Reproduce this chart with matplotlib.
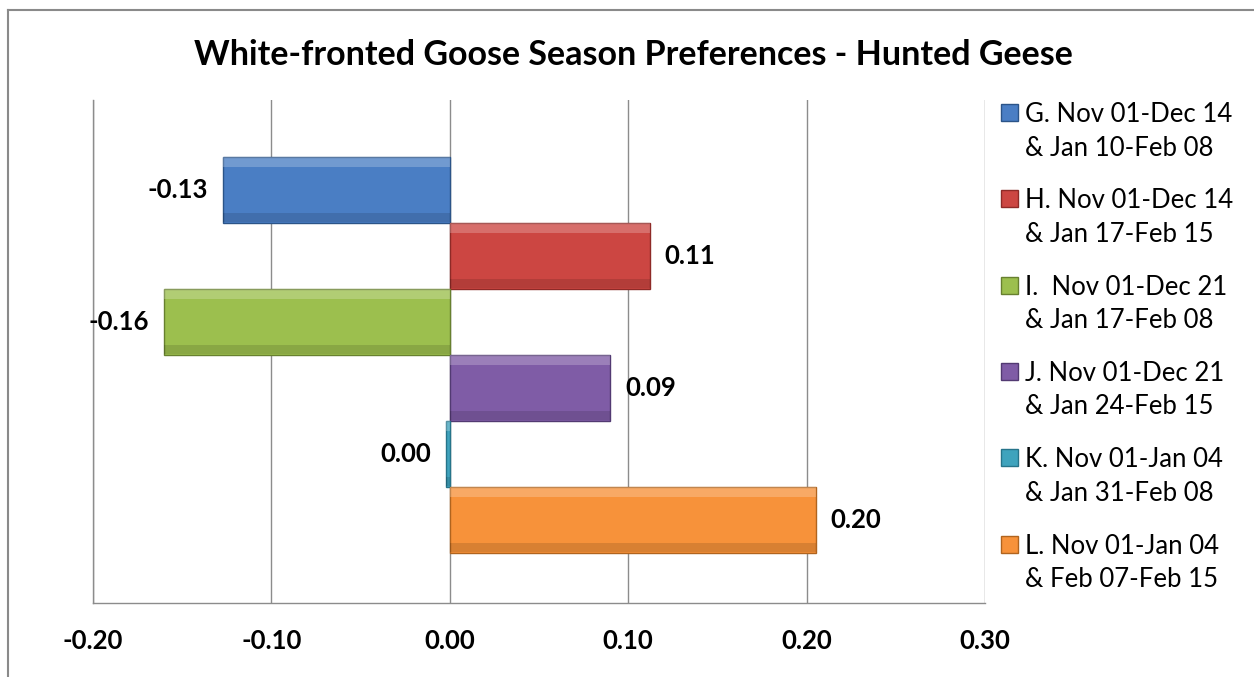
import numpy as np
import matplotlib.pyplot as plt
from matplotlib.patches import Rectangle
from matplotlib.lines import Line2D

plt.rcParams['font.family'] = ['Lato', 'DejaVu Sans']

# Season options and their preference scores
labels = ['G. Nov 01-Dec 14\n& Jan 10-Feb 08',
          'H. Nov 01-Dec 14\n& Jan 17-Feb 15',
          'I.  Nov 01-Dec 21\n& Jan 17-Feb 08',
          'J. Nov 01-Dec 21\n& Jan 24-Feb 15',
          'K. Nov 01-Jan 04\n& Jan 31-Feb 08',
          'L. Nov 01-Jan 04\n& Feb 07-Feb 15']
values = [-0.127, 0.112, -0.160, 0.090, -0.002, 0.205]
xticks = [-0.20, -0.10, 0.00, 0.10, 0.20, 0.30]

colors = ['#4A7EC4', '#CC4642', '#9CBF4E', '#7F5CA6', '#3FA3BD', '#F7923A']
edges = ['#2B5488', '#8E2A27', '#67802F', '#523A72', '#26748A', '#B0641E']

W, H = 1254, 677
fig = plt.figure(figsize=(W / 100, H / 100), dpi=100)
ax = fig.add_axes([93 / W, 1 - 603 / H, (985 - 93) / W, (603 - 100) / H])

ypos = np.arange(len(values))
for i, (v, c, e) in enumerate(zip(values, colors, edges)):
    ax.barh(ypos[i], v, height=1.0, color=c, edgecolor=e, linewidth=1.0,
            zorder=3)
    # soft highlight on top edge, shade on bottom edge (bevel look)
    ax.barh(ypos[i] - 0.42, v, height=0.14, color='white', alpha=0.22,
            linewidth=0, zorder=4)
    ax.barh(ypos[i] + 0.42, v, height=0.14, color='black', alpha=0.12,
            linewidth=0, zorder=4)

    txt = f'{v:.2f}'
    if txt == '-0.00':
        txt = '0.00'
    off = 0.0085
    if v < 0:
        ax.text(v - off, ypos[i], txt, ha='right', va='center',
                fontsize=18.5, fontweight='bold', zorder=5)
    else:
        ax.text(v + off, ypos[i], txt, ha='left', va='center',
                fontsize=18.5, fontweight='bold', zorder=5)

ax.set_xlim(-0.20, 0.30)
ax.set_ylim(5.5 + 0.76, -0.5 - 0.86)
ax.set_xticks(xticks)
ax.set_xticklabels([f'{t:.2f}' for t in xticks], fontsize=18.5, fontweight='bold')
ax.set_yticks([])
ax.tick_params(axis='x', length=0, pad=19)
ax.grid(axis='x', color='#8C8C8C', linewidth=1.0, zorder=0)
for s in ['top', 'right']:
    ax.spines[s].set_visible(False)
for s in ['left', 'bottom']:
    ax.spines[s].set_color('#8C8C8C')
    ax.spines[s].set_linewidth(1.0)

fig.text(633 / W, 1 - 65 / H,
         'White-fronted Goose Season Preferences - Hunted Geese',
         ha='center', va='baseline', fontsize=24.5, fontweight='bold')

# legend: square marker beside the first line of each two-line label
pitch = 86.3
for i, (lab, c, e) in enumerate(zip(labels, colors, edges)):
    yc = 112.5 + pitch * i
    fig.add_artist(Rectangle((1001 / W, 1 - (yc + 8.5) / H), 17 / W, 17 / H,
                             facecolor=c, edgecolor=e, linewidth=1.0,
                             transform=fig.transFigure))
    line1, line2 = lab.split('\n')
    fig.text(1025 / W, 1 - (yc + 9.5) / H, line1, ha='left', va='baseline',
             fontsize=18.5)
    fig.text(1025 / W, 1 - (yc + 9.5 + 33.5) / H, line2, ha='left',
             va='baseline', fontsize=18.5)

# chart border (cropped at right and bottom)
fig.add_artist(Line2D([8 / W, 1.0], [1 - 10 / H] * 2, color='#8A8A8A',
                      linewidth=1.5, transform=fig.transFigure))
fig.add_artist(Line2D([8 / W] * 2, [0.0, 1 - 10 / H], color='#8A8A8A',
                      linewidth=1.5, transform=fig.transFigure))

fig.savefig('out.png', dpi=100)
